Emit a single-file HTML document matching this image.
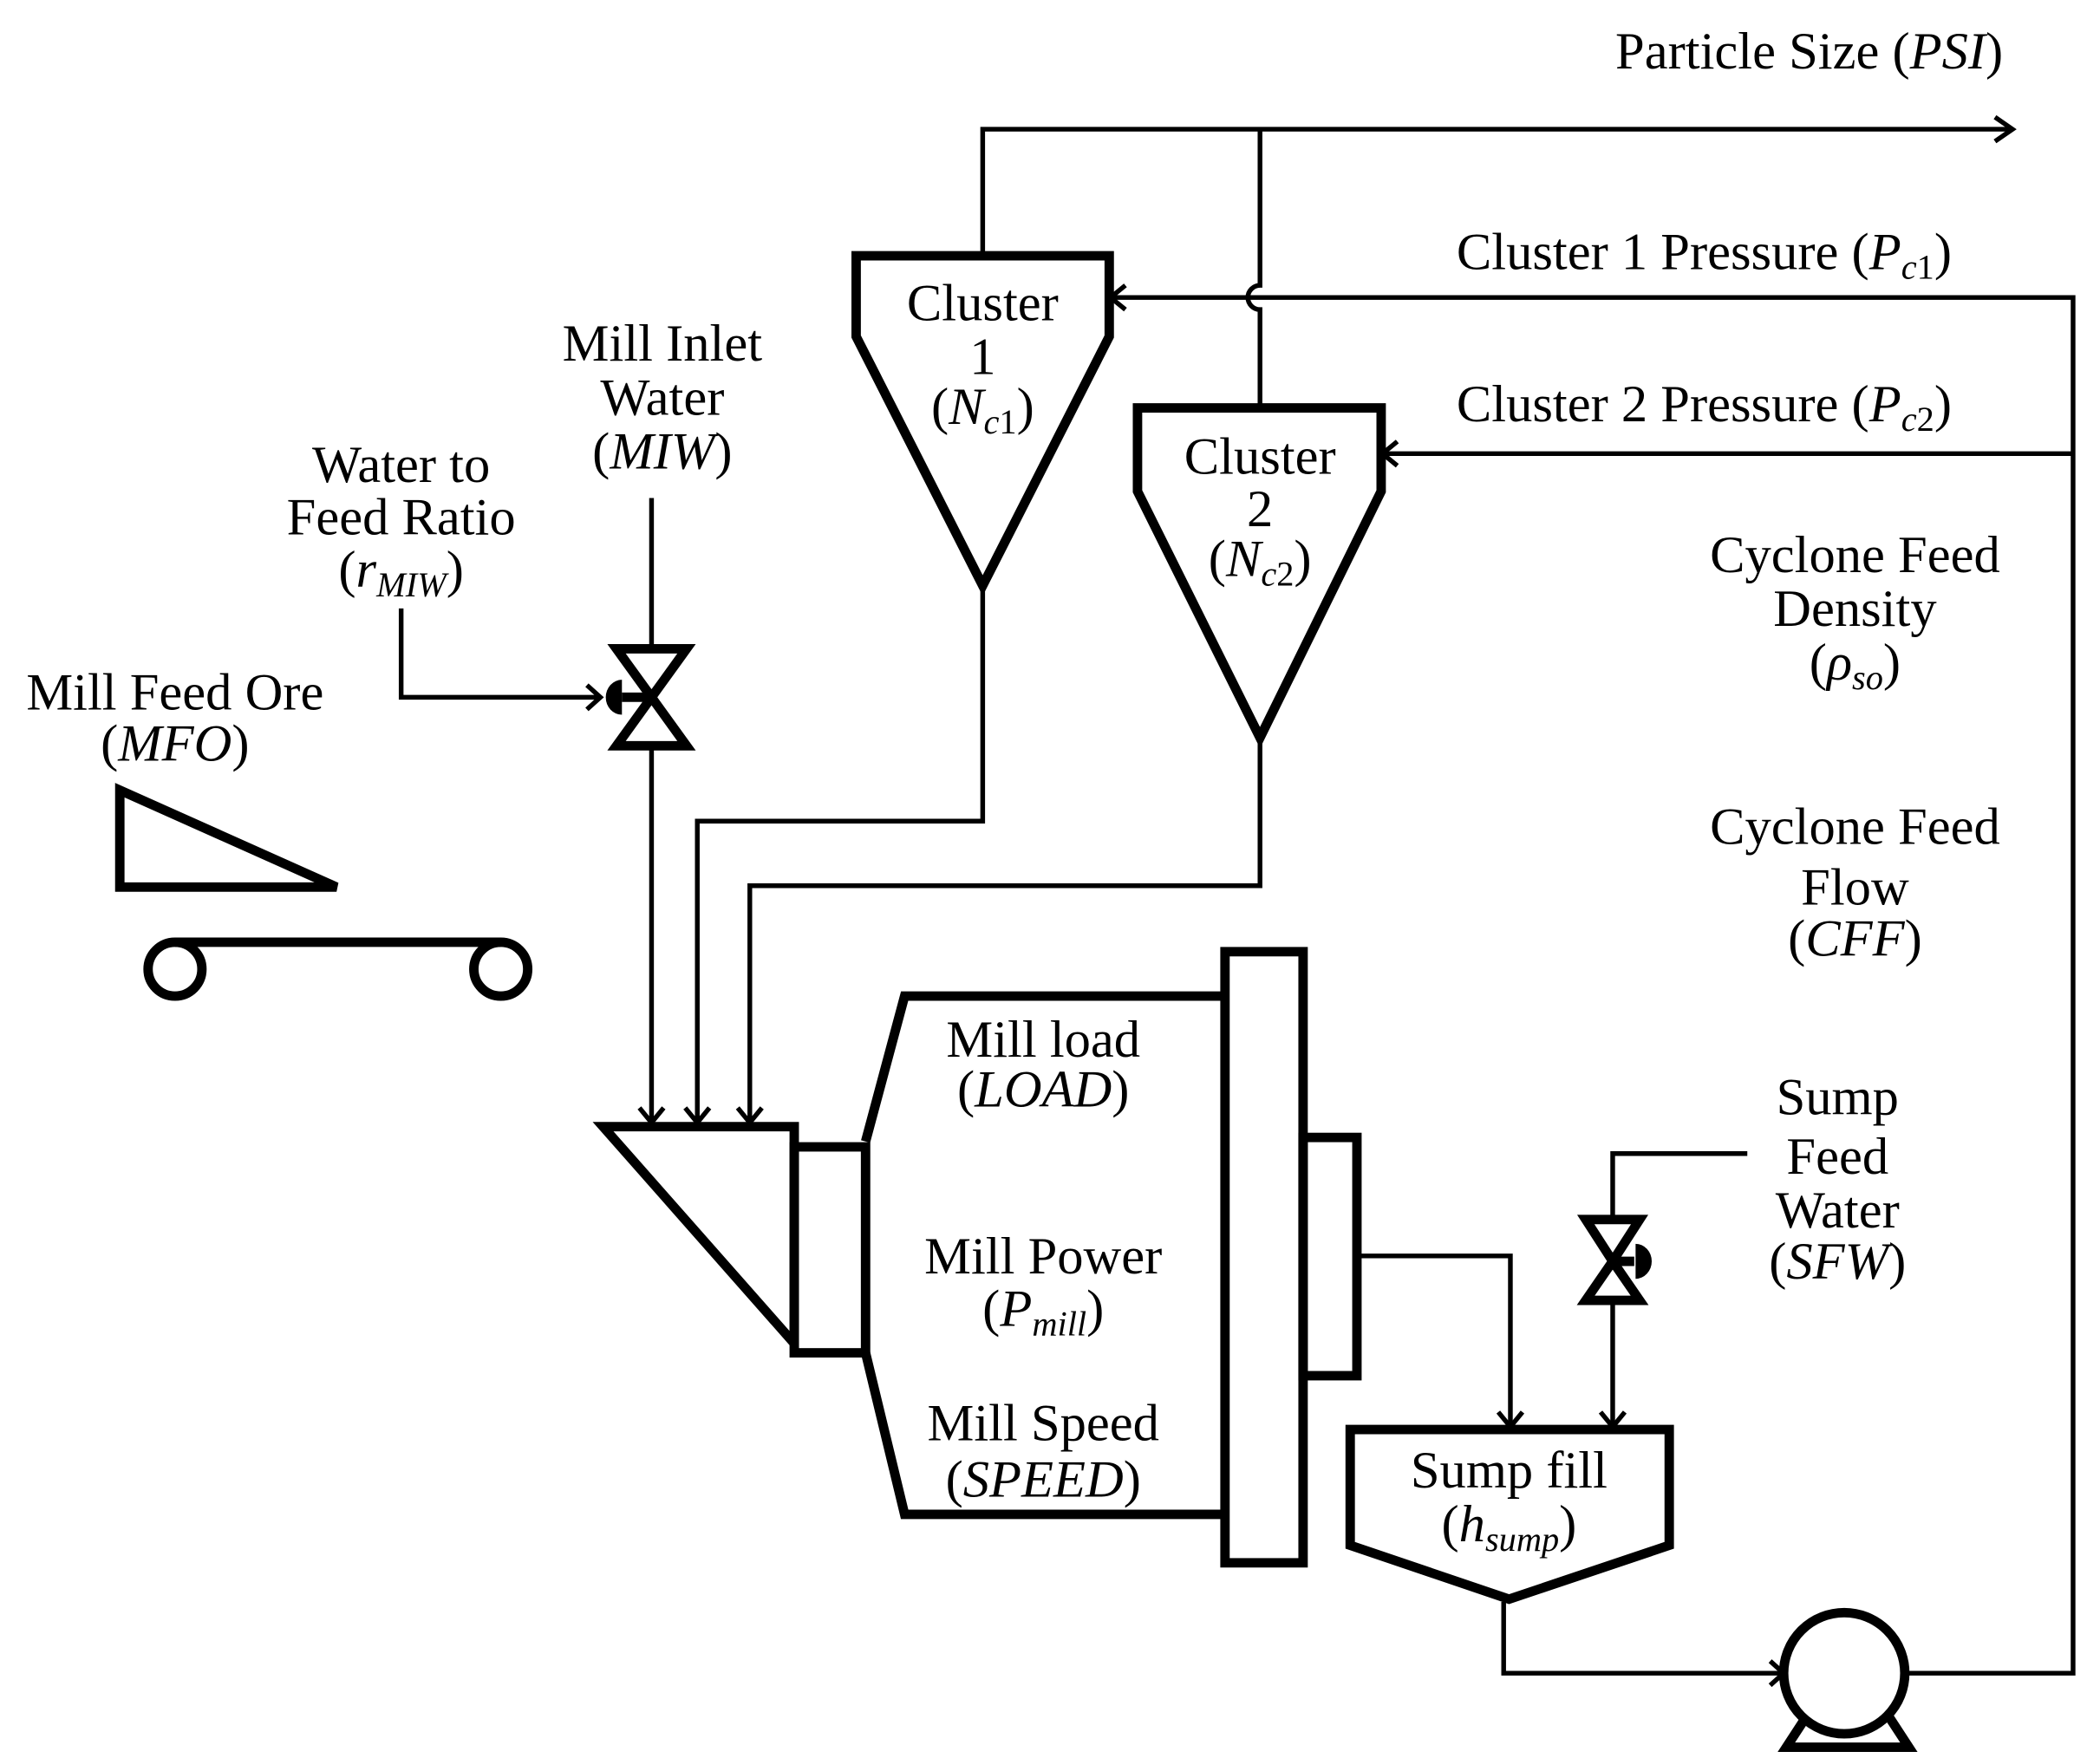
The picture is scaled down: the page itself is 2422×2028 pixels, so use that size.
<!DOCTYPE html>
<html><head><meta charset="utf-8"><style>
html,body{margin:0;padding:0;background:#fff;}
svg{display:block;}
text{font-family:"Liberation Serif",serif;font-size:39px;fill:#000;}
.i{font-style:italic;}
.c{text-anchor:middle;}
</style></head><body>
<svg width="2422" height="2028" viewBox="0 0 1560 1306" preserveAspectRatio="none" xmlns="http://www.w3.org/2000/svg">
<g fill="none" stroke="#000" stroke-width="3.5" stroke-linejoin="miter">
<polyline points="730,190 730,96 1493,96"/>
<polyline points="1482,87 1495,96 1482,105"/>
<path d="M936,96 L936,212 A9,9 0 0 0 936,230 L936,303"/>
<polyline points="824,221 1540,221 1540,1243 1415,1243"/>
<polyline points="836,212 825,221 836,230"/>
<line x1="1026" y1="337" x2="1540" y2="337"/>
<polyline points="1038,328 1027,337 1038,346"/>
<polyline points="730,435 730,610 518,610 518,834"/>
<polyline points="509,823 518,834 527,823"/>
<polyline points="936,548 936,658 557,658 557,834"/>
<polyline points="548,823 557,834 566,823"/>
<line x1="484" y1="370" x2="484" y2="482"/>
<polyline points="484,556 484,834"/>
<polyline points="475,823 484,834 493,823"/>
<polyline points="298,452 298,518 446,518"/>
<polyline points="436,509 446,518 436,527"/>
<polyline points="1008,933 1122,933 1122,1060"/>
<polyline points="1113,1049 1122,1060 1131,1049"/>
<polyline points="1298,857 1198,857 1198,905"/>
<line x1="1198" y1="968" x2="1198" y2="1060"/>
<polyline points="1189,1049 1198,1060 1207,1049"/>
<polyline points="1117,1190 1117,1243 1325,1243"/>
<polyline points="1315,1234 1325,1243 1315,1252"/>
</g>
<g fill="none" stroke="#000" stroke-width="7" stroke-linejoin="miter">
<polygon points="636,190 824,190 824,250 730,435 636,250"/>
<polygon points="845,303 1026,303 1026,365 936,548 845,365"/>
<polygon points="458,482 510,482 484,518"/>
<polygon points="458,554 510,554 484,518"/>
<line x1="462" y1="518" x2="484" y2="518"/>
<polygon points="1178,906 1218,906 1198,937"/>
<polygon points="1178,966 1218,966 1198,937"/>
<line x1="1198" y1="937" x2="1214" y2="937"/>
<polygon points="89,587 89,659 250,659"/>
<line x1="130" y1="700" x2="372" y2="700"/>
<circle cx="130" cy="720" r="20"/>
<circle cx="372" cy="720" r="20"/>
<polygon points="448,837 590,837 590,998"/>
<rect x="590" y="852" width="53" height="153"/>
<polyline points="643,848 672,740 910,740"/>
<polyline points="643,1005 672,1125 910,1125"/>
<rect x="910" y="707" width="58" height="454"/>
<rect x="968" y="845" width="40" height="177"/>
<polygon points="1003,1062 1240,1062 1240,1148 1121,1188 1003,1148"/>
<polygon points="1327,1298 1418,1298 1403,1275 1342,1275"/>
<circle cx="1370" cy="1243" r="45" fill="#fff"/>
</g>
<path d="M462,505 A12,13 0 0 0 462,531 Z" fill="#000"/>
<path d="M1215,924 A12,13 0 0 1 1215,950 Z" fill="#000"/>
<text x="1488" y="51" text-anchor="end">Particle Size (<tspan class="i">PSI</tspan>)</text>
<text x="1082" y="200">Cluster 1 Pressure (<tspan class="i">P</tspan><tspan class="i" font-size="26" dy="7">c</tspan><tspan font-size="26">1</tspan><tspan dy="-7">)</tspan></text>
<text x="1082" y="313">Cluster 2 Pressure (<tspan class="i">P</tspan><tspan class="i" font-size="26" dy="7">c</tspan><tspan font-size="26">2</tspan><tspan dy="-7">)</tspan></text>
<text class="c" x="730" y="238">Cluster</text>
<text class="c" x="730" y="278">1</text>
<text class="c" x="730" y="315">(<tspan class="i">N</tspan><tspan class="i" font-size="26" dy="7">c</tspan><tspan font-size="26">1</tspan><tspan dy="-7">)</tspan></text>
<text class="c" x="936" y="352">Cluster</text>
<text class="c" x="936" y="391">2</text>
<text class="c" x="936" y="428">(<tspan class="i">N</tspan><tspan class="i" font-size="26" dy="7">c</tspan><tspan font-size="26">2</tspan><tspan dy="-7">)</tspan></text>
<text class="c" x="1378" y="425">Cyclone Feed</text>
<text class="c" x="1378" y="465">Density</text>
<text class="c" x="1378" y="505">(<tspan class="i">ρ</tspan><tspan class="i" font-size="26" dy="7">so</tspan><tspan dy="-7">)</tspan></text>
<text class="c" x="1378" y="627">Cyclone Feed</text>
<text class="c" x="1378" y="672">Flow</text>
<text class="c" x="1378" y="710">(<tspan class="i">CFF</tspan>)</text>
<text class="c" x="492" y="268">Mill Inlet</text>
<text class="c" x="492" y="308">Water</text>
<text class="c" x="492" y="348">(<tspan class="i">MIW</tspan>)</text>
<text class="c" x="298" y="358">Water to</text>
<text class="c" x="298" y="397">Feed Ratio</text>
<text class="c" x="298" y="436">(<tspan class="i">r</tspan><tspan class="i" font-size="26" dy="7">MIW</tspan><tspan dy="-7">)</tspan></text>
<text class="c" x="130" y="527">Mill Feed Ore</text>
<text class="c" x="130" y="565">(<tspan class="i">MFO</tspan>)</text>
<text class="c" x="775" y="785">Mill load</text>
<text class="c" x="775" y="822">(<tspan class="i">LOAD</tspan>)</text>
<text class="c" x="775" y="946">Mill Power</text>
<text class="c" x="775" y="985">(<tspan class="i">P</tspan><tspan class="i" font-size="26" dy="7">mill</tspan><tspan dy="-7">)</tspan></text>
<text class="c" x="775" y="1070">Mill Speed</text>
<text class="c" x="775" y="1112">(<tspan class="i">SPEED</tspan>)</text>
<text class="c" x="1121" y="1105">Sump fill</text>
<text class="c" x="1121" y="1145">(<tspan class="i">h</tspan><tspan class="i" font-size="26" dy="7">sump</tspan><tspan dy="-7">)</tspan></text>
<text class="c" x="1365" y="828">Sump</text>
<text class="c" x="1365" y="872">Feed</text>
<text class="c" x="1365" y="912">Water</text>
<text class="c" x="1365" y="950">(<tspan class="i">SFW</tspan>)</text>
</svg>
</body></html>
